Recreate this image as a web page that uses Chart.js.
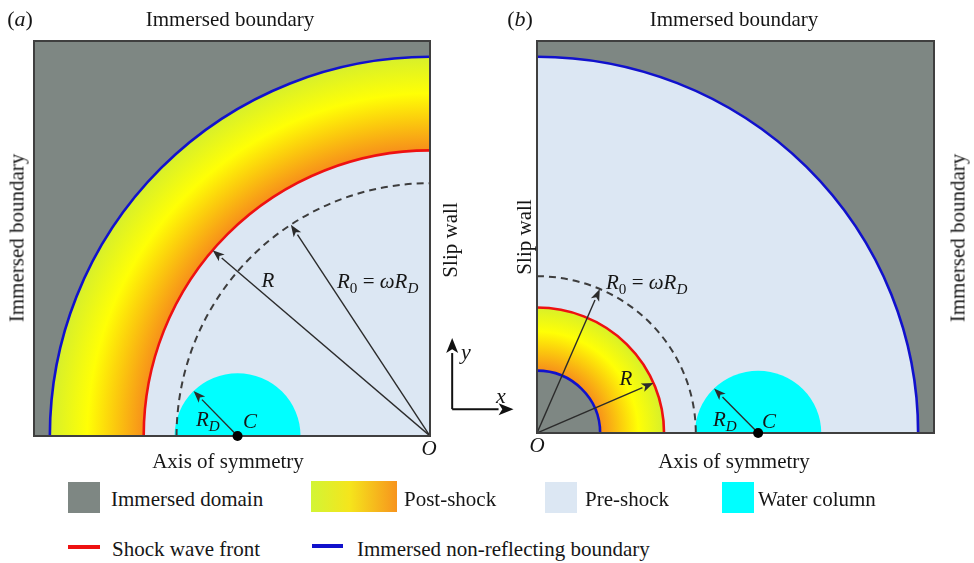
<!DOCTYPE html>
<html>
<head>
<meta charset="utf-8">
<script src="https://cdn.jsdelivr.net/npm/chart.js@4/dist/chart.umd.min.js"></script>
<style>
  html, body { margin: 0; padding: 0; background: #fff; }
  #page { position: relative; width: 974px; height: 563px; overflow: hidden;
          font-family: 'Liberation Serif', 'Times New Roman', serif; color: #161616; }
  .plot { position: absolute; left: 0; top: 0; width: 974px; height: 470px; }
  .t { position: absolute; white-space: nowrap; font-size: 21px; line-height: 1;
       transform: translate(-50%, -50%); z-index: 2; }
  .l { position: absolute; white-space: nowrap; font-size: 21px; line-height: 1;
       transform: translateY(-50%); z-index: 2; }
  .v { position: absolute; white-space: nowrap; font-size: 21px; line-height: 1;
       transform: translate(-50%, -50%) rotate(-90deg); z-index: 2; }
  i { font-style: italic; }
  sub { font-size: 0.72em; vertical-align: -0.38em; line-height: 0; }
  .sw { position: absolute; z-index: 2; }
</style>
</head>
<body>
<div id="page">
  <div class="plot"><canvas id="panelA"></canvas></div>
  <div class="plot"><canvas id="panelB"></canvas></div>

  <!-- panel (a) labels -->
  <div class="t" style="left:20px;top:19px;font-size:22px">(<i>a</i>)</div>
  <div class="t" style="left:230px;top:19px">Immersed boundary</div>
  <div class="v" style="left:17px;top:238px">Immersed boundary</div>
  <div class="v" style="left:450px;top:240px">Slip wall</div>
  <div class="t" style="left:228px;top:461px">Axis of symmetry</div>
  <div class="t" style="left:429px;top:448px"><i>O</i></div>
  <div class="t" style="left:466px;top:352px;font-size:22px"><i>y</i></div>
  <div class="t" style="left:501px;top:396px;font-size:22px"><i>x</i></div>
  <div class="t" style="left:268px;top:280px"><i>R</i></div>
  <div class="l" style="left:337px;top:281px"><i>R</i><sub>0</sub> = <i>ωR<sub>D</sub></i></div>
  <div class="l" style="left:196px;top:419px"><i>R<sub>D</sub></i></div>
  <div class="t" style="left:250px;top:421px"><i>C</i></div>

  <!-- panel (b) labels -->
  <div class="t" style="left:520px;top:19px;font-size:22px">(<i>b</i>)</div>
  <div class="t" style="left:734px;top:19px">Immersed boundary</div>
  <div class="v" style="left:958px;top:238px">Immersed boundary</div>
  <div class="v" style="left:524px;top:237px">Slip wall</div>
  <div class="t" style="left:734px;top:461px">Axis of symmetry</div>
  <div class="t" style="left:537px;top:445px"><i>O</i></div>
  <div class="t" style="left:626px;top:378px"><i>R</i></div>
  <div class="l" style="left:606px;top:282px"><i>R</i><sub>0</sub> = <i>ωR<sub>D</sub></i></div>
  <div class="l" style="left:713px;top:419px"><i>R<sub>D</sub></i></div>
  <div class="t" style="left:769px;top:421px"><i>C</i></div>

  <!-- legend -->
  <div class="sw" style="left:68px;top:482px;width:32px;height:31px;background:#7e8783"></div>
  <div class="l" style="left:111px;top:499px">Immersed domain</div>
  <div class="sw" style="left:311px;top:481px;width:86px;height:31px;background:linear-gradient(to right,#d2f535,#f5e51c 45%,#f7941d)"></div>
  <div class="l" style="left:404px;top:499px">Post-shock</div>
  <div class="sw" style="left:545px;top:482px;width:32px;height:31px;background:#dce7f3"></div>
  <div class="l" style="left:585px;top:499px">Pre-shock</div>
  <div class="sw" style="left:722px;top:482px;width:32px;height:31px;background:#00ffff"></div>
  <div class="l" style="left:758px;top:499px">Water column</div>

  <div class="sw" style="left:68px;top:545px;width:32px;height:4px;background:#ee1111"></div>
  <div class="l" style="left:112px;top:549px">Shock wave front</div>
  <div class="sw" style="left:312px;top:544px;width:31px;height:4px;background:#1111cc"></div>
  <div class="l" style="left:357px;top:549px">Immersed non-reflecting boundary</div>
</div>

<script>
// Geometry of the two configurations, in units of the square side / 10.
// Index 0 = panel (a) (converging shock, O at the right), 1 = panel (b) (diverging shock, O at the left).
const domainSide = 10;
const boundaryRadius = [9.6, 9.6];        // immersed non-reflecting boundary
const shockRadius = [7.23, 3.2];          // shock wave front, R
const initialRadius = [6.4, 4.0];         // R0 = ωR_D
const innerDomainRadius = [0, 1.59];      // immersed core around O
const columnCentre = [-4.86, 5.57];       // C on the axis of symmetry
const columnRadius = [1.59, 1.59];        // R_D
const angleR = [139.4, 23.5];             // direction of the R arrow (deg)
const angleR0 = [123.3, 66.7];            // direction of the R0 arrow (deg)
const angleRD = [134.3, 134.3];           // direction of the R_D arrow (deg)
const frameOrigin = [0.56, 0.68];         // x-y frame sketch beside panel (a)
const frameLength = [1.55, 1.8];

const COLORS = {
  immersed: '#7e8783',
  preShock: '#dce7f3',
  column: '#00ffff',
  shock: '#ee1111',
  boundary: '#1111cc',
  dashed: '#3d3d3d',
  arrow: '#2b2b2b',
  frame: '#3f3f3f'
};

function arrow(ctx, x0, y0, x1, y1, len, half, width, color) {
  const ang = Math.atan2(y1 - y0, x1 - x0);
  const bx = x1 - len * Math.cos(ang), by = y1 - len * Math.sin(ang);
  ctx.strokeStyle = color; ctx.fillStyle = color; ctx.lineWidth = width;
  ctx.setLineDash([]);
  ctx.beginPath(); ctx.moveTo(x0, y0); ctx.lineTo(bx, by); ctx.stroke();
  ctx.beginPath();
  ctx.moveTo(x1, y1);
  ctx.lineTo(bx + half * Math.sin(ang), by - half * Math.cos(ang));
  ctx.lineTo(x1 - len * 0.75 * Math.cos(ang), y1 - len * 0.75 * Math.sin(ang));
  ctx.lineTo(bx - half * Math.sin(ang), by + half * Math.cos(ang));
  ctx.closePath(); ctx.fill();
}

const schematic = {
  id: 'schematic',
  beforeDatasetsDraw(chart, args, opts) {
    const p = opts.panel;
    const { ctx, chartArea: a, scales: { x, y } } = chart;
    const px = v => x.getPixelForValue(v), py = v => y.getPixelForValue(v);
    const ox = px(0), oy = py(0);
    const rx = r => Math.abs(px(r) - ox), ry = r => Math.abs(py(r) - oy);
    const a0 = p === 0 ? Math.PI : 1.5 * Math.PI;
    const a1 = p === 0 ? 1.5 * Math.PI : 2 * Math.PI;
    const quarter = r => { ctx.beginPath(); ctx.moveTo(ox, oy); ctx.ellipse(ox, oy, rx(r), ry(r), 0, a0, a1); ctx.closePath(); };
    const arc = r => { ctx.beginPath(); ctx.ellipse(ox, oy, rx(r), ry(r), 0, a0, a1); };
    const ring = (rIn, rOut) => {
      const g = ctx.createRadialGradient(ox, oy, rx(rIn), ox, oy, rx(rOut));
      g.addColorStop(0, '#f7901a');
      g.addColorStop(0.3, '#fbc80e');
      g.addColorStop(0.6, '#ffff05');
      g.addColorStop(1, '#d6ef2c');
      return g;
    };

    ctx.save();
    ctx.beginPath(); ctx.rect(a.left, a.top, a.width, a.height); ctx.clip();
    ctx.fillStyle = COLORS.immersed;
    ctx.fillRect(a.left, a.top, a.width, a.height);

    if (p === 0) {
      quarter(boundaryRadius[p]); ctx.fillStyle = ring(shockRadius[p], boundaryRadius[p]); ctx.fill();
      quarter(shockRadius[p]); ctx.fillStyle = COLORS.preShock; ctx.fill();
    } else {
      quarter(boundaryRadius[p]); ctx.fillStyle = COLORS.preShock; ctx.fill();
      quarter(shockRadius[p]); ctx.fillStyle = ring(innerDomainRadius[p], shockRadius[p]); ctx.fill();
      quarter(innerDomainRadius[p]); ctx.fillStyle = COLORS.immersed; ctx.fill();
    }

    // water column (upper half disc)
    const cx = px(columnCentre[p]);
    ctx.beginPath();
    ctx.ellipse(cx, oy, rx(columnRadius[p]), ry(columnRadius[p]), 0, Math.PI, 2 * Math.PI);
    ctx.closePath(); ctx.fillStyle = COLORS.column; ctx.fill();

    // initial shock radius (dashed)
    arc(initialRadius[p]);
    ctx.setLineDash([7, 5]); ctx.lineWidth = 2; ctx.strokeStyle = COLORS.dashed; ctx.stroke();
    ctx.setLineDash([]);

    arc(shockRadius[p]); ctx.lineWidth = 2.6; ctx.strokeStyle = COLORS.shock; ctx.stroke();
    arc(boundaryRadius[p]); ctx.lineWidth = 2.6; ctx.strokeStyle = COLORS.boundary; ctx.stroke();
    if (innerDomainRadius[p] > 0) {
      arc(innerDomainRadius[p]); ctx.lineWidth = 2.6; ctx.strokeStyle = COLORS.boundary; ctx.stroke();
    }

    // radius arrows
    const tip = (x0, r, deg) => {
      const t = deg * Math.PI / 180;
      return [px(x0 + r * Math.cos(t)), py(r * Math.sin(t))];
    };
    let e = tip(0, shockRadius[p], angleR[p]);
    arrow(ctx, ox, oy, e[0], e[1], 12, 4.5, 1.4, COLORS.arrow);
    e = tip(0, initialRadius[p], angleR0[p]);
    arrow(ctx, ox, oy, e[0], e[1], 12, 4.5, 1.4, COLORS.arrow);
    e = tip(columnCentre[p], columnRadius[p], angleRD[p]);
    arrow(ctx, cx, oy, e[0], e[1], 12, 4.5, 1.4, COLORS.arrow);
    ctx.restore();

    // domain outline
    ctx.save();
    ctx.strokeStyle = COLORS.frame; ctx.lineWidth = 2;
    ctx.strokeRect(a.left, a.top, a.width, a.height);

    // coordinate frame sketch beside panel (a)
    if (p === 0) {
      const fx = px(frameOrigin[0]), fy = py(frameOrigin[1]);
      arrow(ctx, fx, fy, fx, py(frameOrigin[1] + frameLength[1]), 15, 6, 2, '#111');
      arrow(ctx, fx, fy, px(frameOrigin[0] + frameLength[0]), fy, 15, 6, 2, '#111');
    }
    ctx.restore();
  }
};

function makePanel(id, p, padding, xMin, xMax) {
  return new Chart(document.getElementById(id), {
    type: 'scatter',
    data: {
      datasets: [{
        data: [{ x: columnCentre[p], y: 0 }],
        pointRadius: 5,
        pointBackgroundColor: '#000',
        pointBorderWidth: 0,
        clip: false
      }]
    },
    options: {
      responsive: true,
      maintainAspectRatio: false,
      animation: false,
      events: [],
      layout: { padding },
      scales: {
        x: { type: 'linear', min: xMin, max: xMax, display: false },
        y: { type: 'linear', min: 0, max: domainSide, display: false }
      },
      plugins: {
        legend: { display: false },
        tooltip: { enabled: false },
        schematic: { panel: p }
      }
    },
    plugins: [schematic]
  });
}

makePanel('panelA', 0, { left: 34, top: 41, right: 544, bottom: 34 }, -domainSide, 0);
makePanel('panelB', 1, { left: 537, top: 41, right: 40, bottom: 37 }, 0, domainSide);
</script>
</body>
</html>
